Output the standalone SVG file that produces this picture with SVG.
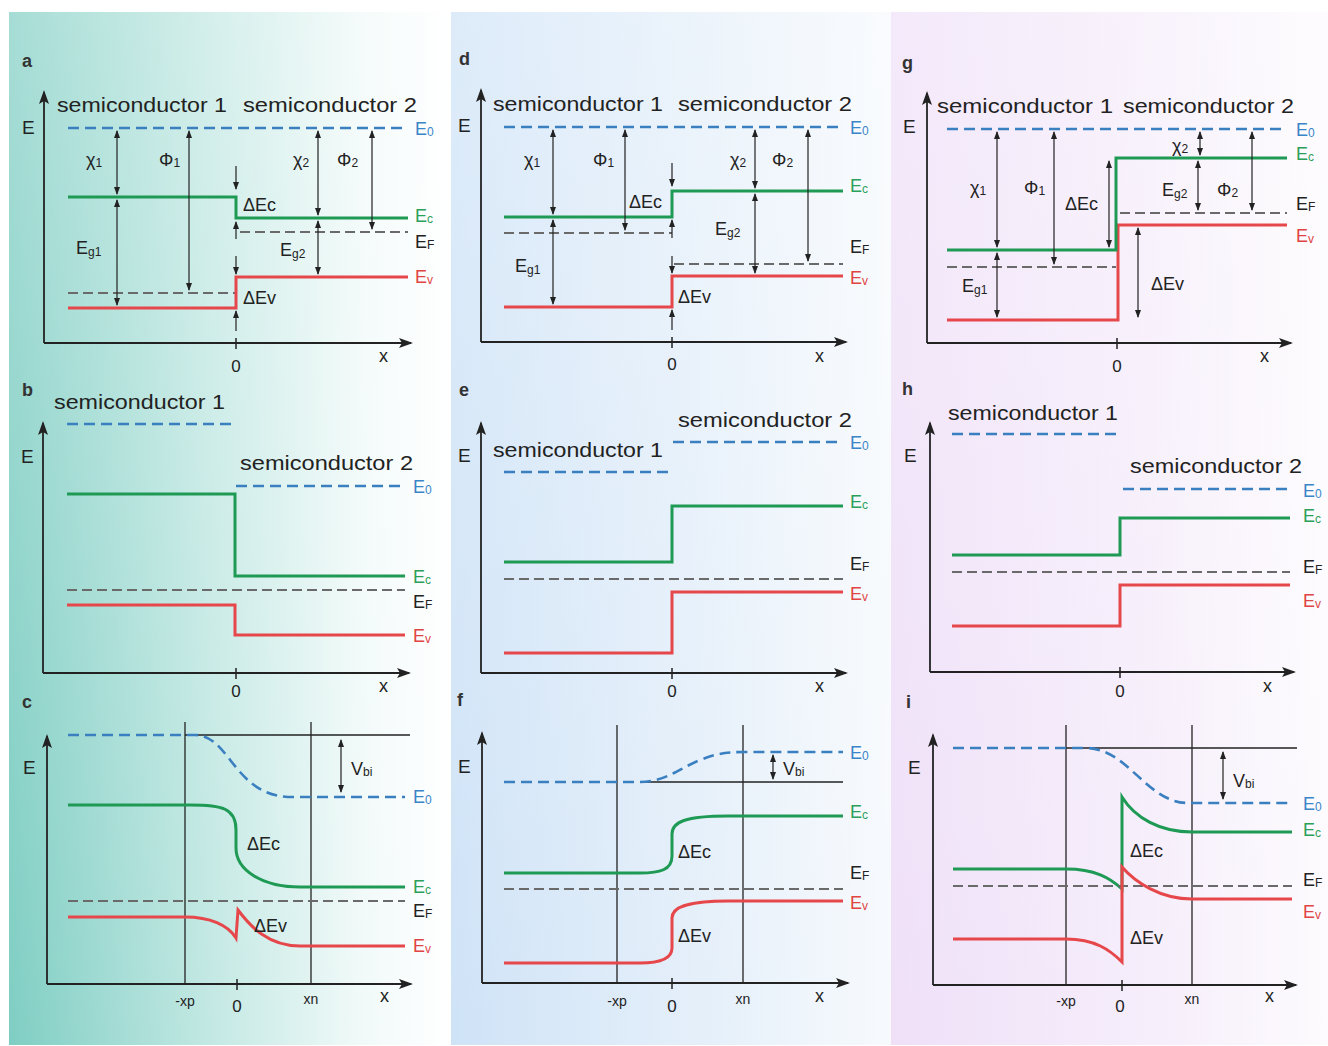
<svg xmlns="http://www.w3.org/2000/svg" width="1328" height="1046" viewBox="0 0 1328 1046">
<defs>
<linearGradient id="bg1" x1="0" y1="0" x2="1" y2="0">
<stop offset="0" stop-color="#7fcec3"/><stop offset="0.45" stop-color="#c2e8e3"/><stop offset="0.8" stop-color="#f1faf9"/><stop offset="1" stop-color="#ffffff"/>
</linearGradient>
<linearGradient id="bg2" x1="0" y1="0" x2="1" y2="0">
<stop offset="0" stop-color="#cfe3f7"/><stop offset="0.6" stop-color="#e6f0fa"/><stop offset="1" stop-color="#f7fafd"/>
</linearGradient>
<linearGradient id="bg3" x1="0" y1="0" x2="1" y2="0">
<stop offset="0" stop-color="#efe0f8"/><stop offset="0.6" stop-color="#f6eefb"/><stop offset="1" stop-color="#fdfbfe"/>
</linearGradient>
<linearGradient id="veil" x1="0" y1="0" x2="0" y2="1">
<stop offset="0" stop-color="#ffffff" stop-opacity="0.3"/><stop offset="1" stop-color="#ffffff" stop-opacity="0"/>
</linearGradient>
<marker id="ah" markerUnits="userSpaceOnUse" markerWidth="8" markerHeight="6" refX="7" refY="3" orient="auto-start-reverse">
<path d="M0,0 L8,3 L0,6 z" fill="#222"/>
</marker>
<marker id="ax" markerUnits="userSpaceOnUse" markerWidth="14" markerHeight="10" refX="12" refY="5" orient="auto">
<path d="M0,0 L14,5 L0,10 L3,5 z" fill="#222"/>
</marker>
</defs>
<style>
text{font-family:"Liberation Sans",Arial,sans-serif;fill:#222}
.ax{stroke:#222;stroke-width:1.8;fill:none;marker-end:url(#ax)}
.tk{stroke:#222;stroke-width:1.5}
.e0{stroke:#3a7fc0;stroke-width:2.6;stroke-dasharray:11 6;fill:none}
.ef{stroke:#6a6a6a;stroke-width:1.8;stroke-dasharray:10 5;fill:none}
.ec{stroke:#1e9a55;stroke-width:3;fill:none}
.ev{stroke:#e6474a;stroke-width:3;fill:none}
.ref{stroke:#222;stroke-width:1.3;fill:none}
.ar{stroke:#222;stroke-width:1.2;fill:none;marker-end:url(#ah);marker-start:url(#ah)}
.a1{stroke:#222;stroke-width:1.2;fill:none;marker-end:url(#ah)}
.pl{font-size:18px;font-weight:bold;fill:#333}
.axl{font-size:19px}
.sc{font-size:21px}
.lb{font-size:18px}
.sb{font-size:12px}
.bl{fill:#3a84c8}
.gr{fill:#2aa05a}
.rd{fill:#e04444}
.num{font-size:17px;text-anchor:middle}
.sm{font-size:14px;text-anchor:middle}
</style>
<rect x="9" y="12" width="442" height="1033" fill="url(#bg1)"/>
<rect x="451" y="12" width="440" height="1033" fill="url(#bg2)"/>
<rect x="891" y="12" width="437" height="1033" fill="url(#bg3)"/>
<rect x="9" y="12" width="1319" height="1033" fill="url(#veil)"/>

<!-- Panel a -->
<g id="panel-a">
<text class="pl" x="22" y="67">a</text>
<path class="ax" d="M44,343 L44,92"/><path class="ax" d="M44,343 L411,343"/>
<line class="tk" x1="236" y1="338" x2="236" y2="349"/>
<text class="axl" x="22" y="134">E</text>
<text class="sc" x="57" y="112" textLength="170" lengthAdjust="spacingAndGlyphs">semiconductor 1</text>
<text class="sc" x="243" y="112" textLength="174" lengthAdjust="spacingAndGlyphs">semiconductor 2</text>
<line class="e0" x1="68" y1="128" x2="405" y2="128"/>
<path class="ec" d="M68,197 L236,197 L236,218 L408,218"/>
<line class="ef" x1="68" y1="293" x2="236" y2="293"/><line class="ef" x1="240" y1="232" x2="408" y2="232"/>
<path class="ev" d="M68,308 L236,308 L236,277 L408,277"/>
<text class="lb bl" x="415" y="135">E<tspan class="sb" dy="1">0</tspan></text>
<text class="lb gr" x="415" y="222">E<tspan class="sb" dy="1">c</tspan></text>
<text class="lb" x="415" y="248">E<tspan class="sb" dy="1">F</tspan></text>
<text class="lb rd" x="415" y="283">E<tspan class="sb" dy="1">v</tspan></text>
<text class="lb" x="86" y="166">χ<tspan class="sb" dy="1">1</tspan></text>
<text class="lb" x="159" y="166">Φ<tspan class="sb" dy="1">1</tspan></text>
<text class="lb" x="293" y="166">χ<tspan class="sb" dy="1">2</tspan></text>
<text class="lb" x="337" y="166">Φ<tspan class="sb" dy="1">2</tspan></text>
<text class="lb" x="76" y="254">E<tspan class="sb" dy="2">g1</tspan></text>
<text class="lb" x="280" y="256">E<tspan class="sb" dy="2">g2</tspan></text>
<text class="lb" x="243" y="211">ΔEc</text>
<text class="lb" x="243" y="304">ΔEv</text>
<text class="num" x="236" y="372">0</text>
<text class="lb" x="379" y="362">x</text>
</g>

<!-- Panel b -->
<g id="panel-b">
<text class="pl" x="22" y="396">b</text>
<path class="ax" d="M43,673 L43,423"/><path class="ax" d="M43,673 L409,673"/>
<line class="tk" x1="236" y1="668" x2="236" y2="679"/>
<text class="axl" x="21" y="463">E</text>
<text class="sc" x="54" y="409" textLength="171" lengthAdjust="spacingAndGlyphs">semiconductor 1</text>
<text class="sc" x="240" y="470" textLength="173" lengthAdjust="spacingAndGlyphs">semiconductor 2</text>
<line class="e0" x1="67" y1="424" x2="235" y2="424"/>
<line class="e0" x1="236" y1="486" x2="404" y2="486"/>
<path class="ec" d="M67,494 L235,494 L235,576 L405,576"/>
<line class="ef" x1="67" y1="590" x2="405" y2="590"/>
<path class="ev" d="M67,605 L235,605 L235,635 L405,635"/>
<text class="lb bl" x="413" y="493">E<tspan class="sb" dy="1">0</tspan></text>
<text class="lb gr" x="413" y="583">E<tspan class="sb" dy="1">c</tspan></text>
<text class="lb" x="413" y="608">E<tspan class="sb" dy="1">F</tspan></text>
<text class="lb rd" x="413" y="642">E<tspan class="sb" dy="1">v</tspan></text>
<text class="num" x="236" y="697">0</text>
<text class="lb" x="379" y="692">x</text>
</g>

<!-- Panel c -->
<g id="panel-c">
<text class="pl" x="22" y="708">c</text>
<path class="ax" d="M47,984 L47,736"/><path class="ax" d="M47,984 L411,984"/>
<line class="tk" x1="237" y1="979" x2="237" y2="990"/>
<text class="axl" x="23" y="774">E</text>
<line class="ref" x1="185" y1="722" x2="185" y2="984"/><line class="ref" x1="311" y1="722" x2="311" y2="984"/>
<line class="ref" x1="185" y1="735" x2="410" y2="735"/>
<path class="e0" d="M68,735 L195,735 C215,735 225,755 240,772 C255,789 270,797 293,797 L405,797"/>
<path class="ec" d="M68,805 L190,805 C222,805 236,808 236,830 L236,848 C236,870 262,887 300,887 L405,887"/>
<line class="ef" x1="68" y1="901" x2="405" y2="901"/>
<path class="ev" d="M68,917 L185,917 C210,917 228,925 236,938 L238,910 C250,926 268,946 300,946 L405,946"/>
<text class="lb bl" x="413" y="803">E<tspan class="sb" dy="1">0</tspan></text>
<text class="lb gr" x="413" y="893">E<tspan class="sb" dy="1">c</tspan></text>
<text class="lb" x="413" y="917">E<tspan class="sb" dy="1">F</tspan></text>
<text class="lb rd" x="413" y="952">E<tspan class="sb" dy="1">v</tspan></text>
<text class="lb" x="351" y="775">V<tspan class="sb" dy="1">bi</tspan></text>
<text class="lb" x="247" y="850">ΔEc</text>
<text class="lb" x="254" y="932">ΔEv</text>
<text class="sm" x="185" y="1006">-xp</text>
<text class="num" x="237" y="1012">0</text>
<text class="sm" x="311" y="1004">xn</text>
<text class="lb" x="380" y="1002">x</text>
</g>

<!-- Panel d -->
<g id="panel-d">
<text class="pl" x="459" y="65">d</text>
<path class="ax" d="M481,342 L481,90"/><path class="ax" d="M481,342 L846,342"/>
<line class="tk" x1="672" y1="337" x2="672" y2="348"/>
<text class="axl" x="458" y="132">E</text>
<text class="sc" x="493" y="111" textLength="170" lengthAdjust="spacingAndGlyphs">semiconductor 1</text>
<text class="sc" x="678" y="111" textLength="174" lengthAdjust="spacingAndGlyphs">semiconductor 2</text>
<line class="e0" x1="504" y1="127" x2="839" y2="127"/>
<path class="ec" d="M504,217 L672,217 L672,191 L843,191"/>
<line class="ef" x1="504" y1="233" x2="672" y2="233"/><line class="ef" x1="674" y1="264" x2="843" y2="264"/>
<path class="ev" d="M504,307 L672,307 L672,276 L843,276"/>
<text class="lb bl" x="850" y="134">E<tspan class="sb" dy="1">0</tspan></text>
<text class="lb gr" x="850" y="192">E<tspan class="sb" dy="1">c</tspan></text>
<text class="lb" x="850" y="253">E<tspan class="sb" dy="1">F</tspan></text>
<text class="lb rd" x="850" y="284">E<tspan class="sb" dy="1">v</tspan></text>
<text class="lb" x="524" y="166">χ<tspan class="sb" dy="1">1</tspan></text>
<text class="lb" x="593" y="166">Φ<tspan class="sb" dy="1">1</tspan></text>
<text class="lb" x="730" y="166">χ<tspan class="sb" dy="1">2</tspan></text>
<text class="lb" x="772" y="166">Φ<tspan class="sb" dy="1">2</tspan></text>
<text class="lb" x="515" y="272">E<tspan class="sb" dy="2">g1</tspan></text>
<text class="lb" x="715" y="235">E<tspan class="sb" dy="2">g2</tspan></text>
<text class="lb" x="629" y="208">ΔEc</text>
<text class="lb" x="678" y="303">ΔEv</text>
<text class="num" x="672" y="370">0</text>
<text class="lb" x="815" y="362">x</text>
</g>

<!-- Panel e -->
<g id="panel-e">
<text class="pl" x="459" y="396">e</text>
<path class="ax" d="M481,673 L481,423"/><path class="ax" d="M481,673 L846,673"/>
<line class="tk" x1="672" y1="668" x2="672" y2="679"/>
<text class="axl" x="458" y="462">E</text>
<text class="sc" x="678" y="427" textLength="174" lengthAdjust="spacingAndGlyphs">semiconductor 2</text>
<text class="sc" x="493" y="457" textLength="170" lengthAdjust="spacingAndGlyphs">semiconductor 1</text>
<line class="e0" x1="673" y1="442" x2="840" y2="442"/>
<line class="e0" x1="504" y1="472" x2="672" y2="472"/>
<path class="ec" d="M504,562 L672,562 L672,506 L843,506"/>
<line class="ef" x1="504" y1="579" x2="843" y2="579"/>
<path class="ev" d="M504,653 L672,653 L672,592 L843,592"/>
<text class="lb bl" x="850" y="449">E<tspan class="sb" dy="1">0</tspan></text>
<text class="lb gr" x="850" y="508">E<tspan class="sb" dy="1">c</tspan></text>
<text class="lb" x="850" y="570">E<tspan class="sb" dy="1">F</tspan></text>
<text class="lb rd" x="850" y="600">E<tspan class="sb" dy="1">v</tspan></text>
<text class="num" x="672" y="697">0</text>
<text class="lb" x="815" y="692">x</text>
</g>

<!-- Panel f -->
<g id="panel-f">
<text class="pl" x="457" y="706">f</text>
<path class="ax" d="M482,983 L482,733"/><path class="ax" d="M482,983 L848,983"/>
<line class="tk" x1="672" y1="978" x2="672" y2="989"/>
<text class="axl" x="458" y="773">E</text>
<line class="ref" x1="617" y1="725" x2="617" y2="983"/><line class="ref" x1="743" y1="725" x2="743" y2="983"/>
<line class="ref" x1="640" y1="782" x2="843" y2="782"/>
<path class="e0" d="M504,782 L640,782 C665,782 680,768 700,760 C718,753 728,752 745,752 L843,752"/>
<path class="ec" d="M504,873 L640,873 C660,873 672,870 672,856 L672,834 C672,822 685,816 728,816 L843,816"/>
<line class="ef" x1="504" y1="889" x2="843" y2="889"/>
<path class="ev" d="M504,963 L640,963 C660,963 672,958 672,948 L672,918 C672,908 685,901 728,901 L843,901"/>
<text class="lb bl" x="850" y="759">E<tspan class="sb" dy="1">0</tspan></text>
<text class="lb gr" x="850" y="818">E<tspan class="sb" dy="1">c</tspan></text>
<text class="lb" x="850" y="879">E<tspan class="sb" dy="1">F</tspan></text>
<text class="lb rd" x="850" y="909">E<tspan class="sb" dy="1">v</tspan></text>
<text class="lb" x="783" y="775">V<tspan class="sb" dy="1">bi</tspan></text>
<text class="lb" x="678" y="858">ΔEc</text>
<text class="lb" x="678" y="942">ΔEv</text>
<text class="sm" x="617" y="1006">-xp</text>
<text class="num" x="672" y="1012">0</text>
<text class="sm" x="743" y="1004">xn</text>
<text class="lb" x="815" y="1002">x</text>
</g>

<!-- Panel g -->
<g id="panel-g">
<text class="pl" x="902" y="69">g</text>
<path class="ax" d="M927,343 L927,93"/><path class="ax" d="M927,343 L1291,343"/>
<line class="tk" x1="1117" y1="338" x2="1117" y2="349"/>
<text class="axl" x="903" y="133">E</text>
<text class="sc" x="937" y="113" textLength="176" lengthAdjust="spacingAndGlyphs">semiconductor 1</text>
<text class="sc" x="1123" y="113" textLength="171" lengthAdjust="spacingAndGlyphs">semiconductor 2</text>
<line class="e0" x1="947" y1="129" x2="1287" y2="129"/>
<path class="ev" d="M947,320 L1118,320 L1118,225 L1287,225"/>
<path class="ec" d="M947,250 L1116,250 L1116,158 L1287,158"/>
<line class="ef" x1="947" y1="267" x2="1116" y2="267"/><line class="ef" x1="1120" y1="213" x2="1287" y2="213"/>
<text class="lb bl" x="1296" y="136">E<tspan class="sb" dy="1">0</tspan></text>
<text class="lb gr" x="1296" y="160">E<tspan class="sb" dy="1">c</tspan></text>
<text class="lb" x="1296" y="210">E<tspan class="sb" dy="1">F</tspan></text>
<text class="lb rd" x="1296" y="242">E<tspan class="sb" dy="1">v</tspan></text>
<text class="lb" x="970" y="194">χ<tspan class="sb" dy="1">1</tspan></text>
<text class="lb" x="1024" y="194">Φ<tspan class="sb" dy="1">1</tspan></text>
<text class="lb" x="1172" y="152">χ<tspan class="sb" dy="1">2</tspan></text>
<text class="lb" x="1162" y="196">E<tspan class="sb" dy="2">g2</tspan></text>
<text class="lb" x="1217" y="196">Φ<tspan class="sb" dy="1">2</tspan></text>
<text class="lb" x="962" y="292">E<tspan class="sb" dy="2">g1</tspan></text>
<text class="lb" x="1065" y="210">ΔEc</text>
<text class="lb" x="1151" y="290">ΔEv</text>
<text class="num" x="1117" y="372">0</text>
<text class="lb" x="1260" y="362">x</text>
</g>

<!-- Panel h -->
<g id="panel-h">
<text class="pl" x="902" y="395">h</text>
<path class="ax" d="M930,672 L930,423"/><path class="ax" d="M930,672 L1294,672"/>
<line class="tk" x1="1120" y1="667" x2="1120" y2="678"/>
<text class="axl" x="904" y="462">E</text>
<text class="sc" x="948" y="420" textLength="170" lengthAdjust="spacingAndGlyphs">semiconductor 1</text>
<text class="sc" x="1130" y="473" textLength="172" lengthAdjust="spacingAndGlyphs">semiconductor 2</text>
<line class="e0" x1="952" y1="434" x2="1120" y2="434"/>
<line class="e0" x1="1123" y1="489" x2="1289" y2="489"/>
<path class="ec" d="M952,555 L1120,555 L1120,518 L1290,518"/>
<line class="ef" x1="952" y1="572" x2="1290" y2="572"/>
<path class="ev" d="M952,626 L1120,626 L1120,585 L1290,585"/>
<text class="lb bl" x="1303" y="497">E<tspan class="sb" dy="1">0</tspan></text>
<text class="lb gr" x="1303" y="522">E<tspan class="sb" dy="1">c</tspan></text>
<text class="lb" x="1303" y="573">E<tspan class="sb" dy="1">F</tspan></text>
<text class="lb rd" x="1303" y="607">E<tspan class="sb" dy="1">v</tspan></text>
<text class="num" x="1120" y="697">0</text>
<text class="lb" x="1263" y="692">x</text>
</g>

<!-- Panel i -->
<g id="panel-i">
<text class="pl" x="906" y="708">i</text>
<path class="ax" d="M933,985 L933,735"/><path class="ax" d="M933,985 L1296,985"/>
<line class="tk" x1="1122" y1="980" x2="1122" y2="991"/>
<text class="axl" x="908" y="774">E</text>
<line class="ref" x1="1066" y1="725" x2="1066" y2="985"/><line class="ref" x1="1192" y1="725" x2="1192" y2="985"/>
<line class="ref" x1="1066" y1="748" x2="1297" y2="748"/>
<path class="e0" d="M953,748 L1085,748 C1110,748 1125,765 1140,778 C1155,792 1170,803 1188,803 L1292,803"/>
<path class="ec" d="M953,869 L1066,869 C1095,869 1110,878 1122,889 L1122,797 C1135,818 1160,832 1192,832 L1292,832"/>
<line class="ef" x1="953" y1="886" x2="1292" y2="886"/>
<path class="ev" d="M953,939 L1066,939 C1095,939 1110,950 1122,962 L1122,867 C1135,882 1160,899 1192,899 L1292,899"/>
<text class="lb bl" x="1303" y="810">E<tspan class="sb" dy="1">0</tspan></text>
<text class="lb gr" x="1303" y="836">E<tspan class="sb" dy="1">c</tspan></text>
<text class="lb" x="1303" y="886">E<tspan class="sb" dy="1">F</tspan></text>
<text class="lb rd" x="1303" y="918">E<tspan class="sb" dy="1">v</tspan></text>
<text class="lb" x="1233" y="787">V<tspan class="sb" dy="1">bi</tspan></text>
<text class="lb" x="1130" y="857">ΔEc</text>
<text class="lb" x="1130" y="944">ΔEv</text>
<text class="sm" x="1066" y="1006">-xp</text>
<text class="num" x="1120" y="1012">0</text>
<text class="sm" x="1192" y="1004">xn</text>
<text class="lb" x="1265" y="1002">x</text>
</g>

<!-- Connectors: energy difference arrows -->
<g id="connectors">
<line class="ar" x1="117" y1="131" x2="117" y2="194"/>
<line class="ar" x1="117" y1="200" x2="117" y2="305"/>
<line class="ar" x1="189" y1="131" x2="189" y2="290"/>
<line class="ar" x1="318" y1="131" x2="318" y2="215"/>
<line class="ar" x1="318" y1="221" x2="318" y2="274"/>
<line class="ar" x1="372" y1="131" x2="372" y2="229"/>
<line class="a1" x1="236" y1="166" x2="236" y2="189"/>
<line class="a1" x1="236" y1="239" x2="236" y2="222"/>
<line class="a1" x1="236" y1="256" x2="236" y2="274"/>
<line class="a1" x1="236" y1="331" x2="236" y2="311"/>

<line class="ar" x1="553" y1="130" x2="553" y2="214"/>
<line class="ar" x1="553" y1="220" x2="553" y2="304"/>
<line class="ar" x1="625" y1="130" x2="625" y2="230"/>
<line class="ar" x1="755" y1="130" x2="755" y2="188"/>
<line class="ar" x1="755" y1="194" x2="755" y2="273"/>
<line class="ar" x1="808" y1="130" x2="808" y2="261"/>
<line class="a1" x1="672" y1="163" x2="672" y2="186"/>
<line class="a1" x1="672" y1="238" x2="672" y2="220"/>
<line class="a1" x1="672" y1="256" x2="672" y2="273"/>
<line class="a1" x1="672" y1="330" x2="672" y2="310"/>

<line class="ar" x1="997" y1="132" x2="997" y2="247"/>
<line class="ar" x1="997" y1="253" x2="997" y2="317"/>
<line class="ar" x1="1054" y1="132" x2="1054" y2="264"/>
<line class="ar" x1="1200" y1="132" x2="1200" y2="155"/>
<line class="ar" x1="1198" y1="161" x2="1198" y2="210"/>
<line class="ar" x1="1252" y1="132" x2="1252" y2="210"/>
<line class="ar" x1="1109" y1="161" x2="1109" y2="247"/>
<line class="ar" x1="1138" y1="228" x2="1138" y2="317"/>

<line class="ar" x1="341" y1="740" x2="341" y2="792"/>
<line class="ar" x1="773" y1="755" x2="773" y2="779"/>
<line class="ar" x1="1223" y1="752" x2="1223" y2="799"/>
</g>
</svg>
